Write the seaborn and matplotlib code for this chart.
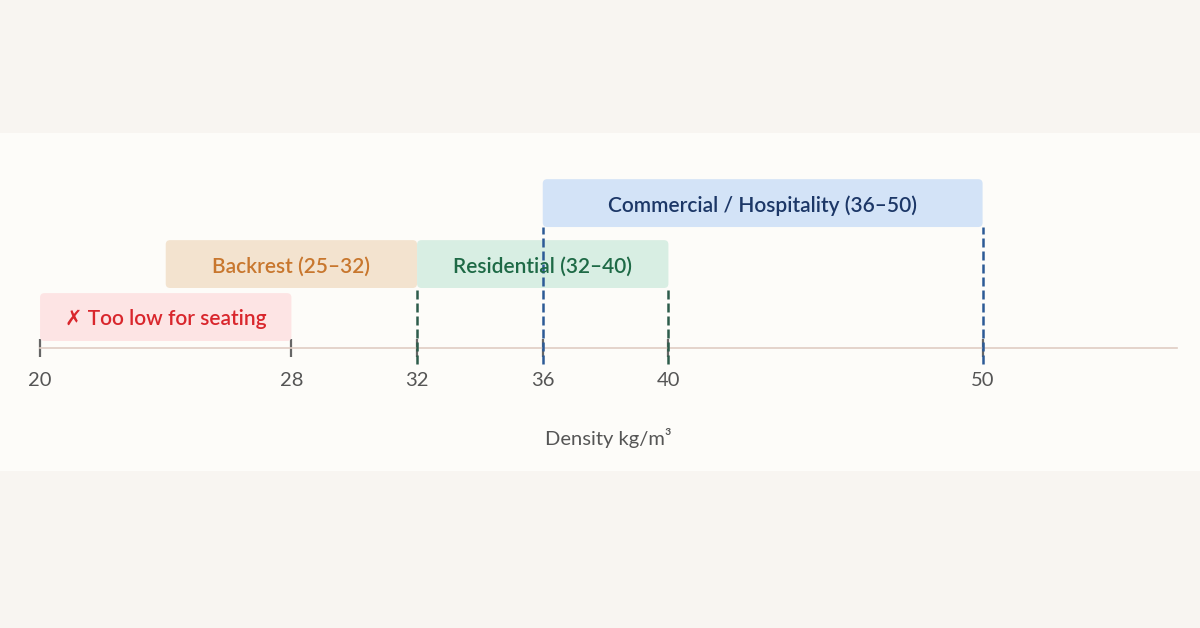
import matplotlib
matplotlib.use("Agg")
import matplotlib.pyplot as plt
from matplotlib.patches import FancyBboxPatch
import seaborn as sns

# range bands
labels = ["✗ Too low for seating", "Backrest (25–32)", "Residential (32–40)",
          "Commercial / Hospitality (36–50)"]
starts = [20, 24, 32, 36]
ends = [28, 32, 40, 50]
lanes = [0, 1, 1, 2]
fills = ["#fde4e4", "#f3e3cf", "#d8eee3", "#d3e3f7"]
text_colors = ["#d9262c", "#c8772e", "#1e6a46", "#1c3767"]

# dashed markers at the range ends
marker_x = [32, 40, 36, 50]
marker_lane = [1, 1, 2, 2]
marker_colors = ["#2d5c4b", "#2d5c4b", "#2c5a96", "#2c5a96"]

ticks = [20, 28, 32, 36, 40, 50]
axis_end = 56.2
xlabel = "Density kg/m³"

sns.set_theme(style="white")
plt.rcParams["font.family"] = ["Lato", "DejaVu Sans"]

fig = plt.figure(figsize=(12, 6.28), dpi=100, facecolor="#f8f5f1")
ax = fig.add_axes([0, 0.25, 1, 0.538])
ax.set_facecolor("#fdfcf9")

lane_y = [0, 0.93, 2.0]   # vertical slot of each lane
bar_h = 0.84
ax.set_xlim(18.725, 56.92)
ax.set_ylim(-2.702, 3.228)
baseline = -0.544

bars = ax.barh([lane_y[l] for l in lanes], [e - s for s, e in zip(starts, ends)],
               left=starts, height=bar_h, color=fills)
for rect, fc, lab, tc in zip(bars.patches, fills, labels, text_colors):
    x, y, w, h = rect.get_x(), rect.get_y(), rect.get_width(), rect.get_height()
    rect.set_visible(False)
    ax.add_patch(FancyBboxPatch((x, y), w, h,
                                boxstyle="round,pad=0,rounding_size=0.14",
                                mutation_aspect=0.55, fc=fc, ec="none", zorder=2))
    ax.text(x + w / 2, y + h / 2 - 0.04, lab, ha="center", va="center", color=tc,
            fontsize=15, fontweight="semibold", zorder=4)

for x, l, c in zip(marker_x, marker_lane, marker_colors):
    ax.vlines(x, baseline - 0.28, lane_y[l] - bar_h / 2, colors=c,
              linewidth=1.8, linestyles=(0, (3.6, 1.6)), zorder=3)

sns.despine(ax=ax, left=True, top=True, right=True)
ax.spines["bottom"].set_position(("data", baseline))
ax.spines["bottom"].set_bounds(20, axis_end)
ax.spines["bottom"].set_color("#e0cdc3")
ax.spines["bottom"].set_linewidth(1.2)
ax.set_yticks([])
ax.set_xticks(ticks)
ax.set_xticklabels([str(t) for t in ticks])
ax.tick_params(axis="x", direction="inout", length=12.5, width=1.6,
               color="#666666", labelsize=14.5, labelcolor="#555555", pad=11,
               bottom=True)

ax.text(38.1, -2.13, xlabel, ha="center", va="center", fontsize=14.5,
        color="#555555")

fig.savefig("out.png", dpi=100, facecolor=fig.get_facecolor())
